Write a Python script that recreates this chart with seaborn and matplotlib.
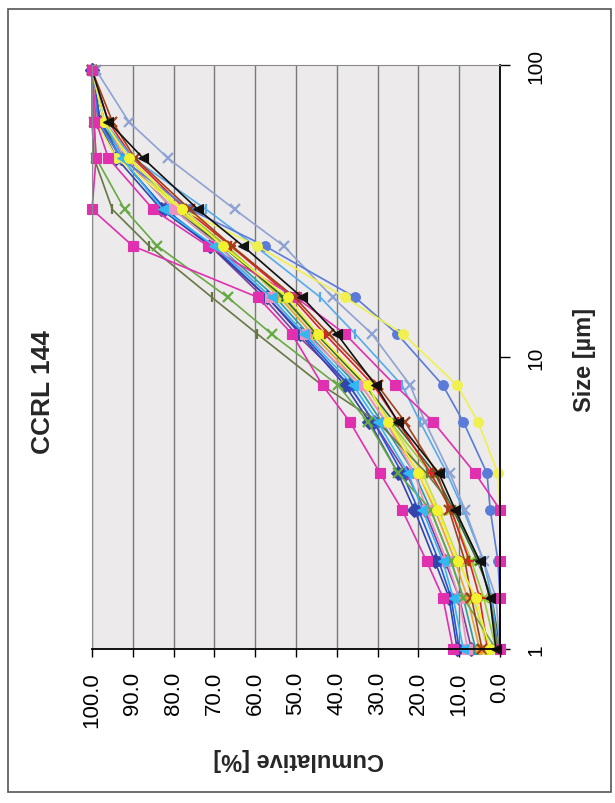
import numpy as np
import pandas as pd
import matplotlib
matplotlib.use("Agg")
import matplotlib.pyplot as plt
import seaborn as sns
from matplotlib.patches import Rectangle

# ---------------- data ----------------
title = "CCRL 144"
size_label = "Size [\u00b5m]"
cum_label = "Cumulative [%]"

sizes = [1, 1.5, 2, 3, 4, 6, 8, 12, 16, 24, 32, 48, 64, 96]

s01 = [10.5, 12.5, 16, 21, 25, 32, 38, 49, 57, 71, 83, 94, 98.5, 100]
s02 = [11.5, 14, 18, 24, 29.4, 36.8, 43.5, 51, 59.3, 90, 100, 99, 99.5, 100]
s03 = [2.5, 6, 10.3, 15.4, 20, 27.5, 32.4, 44.6, 52, 68, 78, 91, 97, 100]
s04 = [9, 11.5, 14, 19, 22.5, 30, 36, 48, 56, 70, 82.6, 92.6, 97, 100]
s05 = [4.4, 7, 8.6, 12.5, 15.4, 23.3, 30, 42, 50.3, 65.7, 76, 89.5, 95, 100]
s06 = [1, 2.5, 5, 11, 15, 25, 30.5, 40, 48.5, 63, 74, 87.5, 96, 100]
s07 = [0, 1, 4, 8.6, 12.3, 18.4, 22, 31.4, 41, 53, 65, 81.4, 91, 99]
s08 = [0, 0, 0.5, 2.4, 3.2, 9, 14, 25.2, 35.5, 57.6, 76, 93, 98.5, 100]
s09 = [0, 0, 0, 0, 0.5, 5.4, 10.5, 23.8, 38, 59.5, 78, 94, 99, 100]
s10 = [0, 0, 0, 0, 6.1, 16.4, 25.7, 38, 50, 71.6, 85, 96, 99, 100]
s11 = [1, 9, 12, 17, 25, 32.4, 39.7, 56, 66.7, 84, 92, 99, 99.5, 100]
s12 = [0.5, 2.5, 5, 11, 18, 30, 43.6, 59.5, 70.6, 86, 95, 99.5, 100, 100]
s13 = [8, 10, 13, 18, 21, 28, 34, 47.8, 56.4, 69, 80, 92, 97, 100]
s14 = [0.5, 2, 4, 9, 13, 19.6, 24, 35.5, 44, 60, 72, 90, 97, 100]
s15 = [3, 5, 7.5, 12, 17, 25, 31, 43, 51, 66, 77, 90, 96, 100]
s16 = [0, 2, 5.5, 11.5, 16, 26, 33, 45, 53, 68, 80, 92, 98, 100]
s17 = [6, 9, 12, 17, 21, 29, 35, 47, 55, 69, 80, 92, 97, 100]
s18 = [5, 8, 11, 16, 20, 28, 34, 46, 54, 67, 79, 91, 97, 100]
s19 = [7, 10, 13.5, 18.5, 23, 31, 37, 50, 58, 71, 82, 93, 98, 100]
s20 = [1, 4, 7, 12, 17, 27, 33, 45, 53, 67, 78, 91, 97, 100]
s21 = [10, 12, 15, 20, 24, 31, 37, 48.5, 57, 70.5, 82, 93, 98, 100]
s22 = [3, 6.5, 10, 15, 19, 27, 33, 45, 53.5, 68, 79, 91, 97, 100]

cum_ticks = [0, 10, 20, 30, 40, 50, 60, 70, 80, 90, 100]
size_ticks = [1, 10, 100]
size_ticklabels = ["1", "10", "100"]

# drawing order / styles (background lines first, prominent last)
styles = [
    (s19, "#8040A0", "D"), (s17, "#2A9D9D", "^"), (s18, "#F0A030", "o"),
    (s20, "#99CC33", "x"), (s22, "#CCDD44", "^"), (s16, "#336633", "*"),
    (s15, "#DD2222", "+"), (s21, "#2255DD", "o"), (s01, "#3344AA", "D"),
    (s13, "#F090C0", "s"), (s14, "#55AAEE", "|"), (s12, "#667744", "|"),
    (s11, "#66AA44", "x"), (s07, "#8EA2D4", "x"), (s08, "#5A7BD8", "o"),
    (s09, "#F0F050", "o"), (s10, "#E030B0", "s"), (s04, "#33B8F0", "<"),
    (s05, "#A0401A", "x"), (s03, "#F2F230", "o"), (s06, "#111111", "<"),
    (s02, "#E030B0", "s"),
]

# ---------------- figure ----------------
sns.set_style("white")
plt.rcParams["font.family"] = ["Liberation Sans", "DejaVu Sans"]

W, H = 615, 804
fig = plt.figure(figsize=(W / 100, H / 100), dpi=100)
fig.patch.set_facecolor("white")
ax = fig.add_axes([92 / W, 1 - 650 / H, (500 - 92) / W, (650 - 66) / H])
ax.set_facecolor("#ECEAEA")

for vals, color, marker in styles:
    sns.lineplot(x=vals, y=sizes, sort=False, estimator=None, ax=ax,
                 color=color, marker=marker, markersize=7,
                 markeredgecolor=color,
                 markeredgewidth=1.6 if marker in "x+|" else 0.8,
                 linewidth=1.2, legend=False, clip_on=False)

ax.set_yscale("log")
ax.set_ylim(1, 100)
ax.set_xlim(100, 0)

ax.set_xticks(cum_ticks)
ax.set_xticklabels([f"{v:.1f}" for v in cum_ticks])
ax.yaxis.tick_right()
ax.set_yticks(size_ticks)
ax.set_yticklabels(size_ticklabels)
ax.yaxis.set_minor_locator(matplotlib.ticker.NullLocator())

ax.tick_params(axis="x", direction="out", length=6, width=1, pad=10,
               labelsize=16, labelrotation=90, bottom=True, colors="black")
ax.tick_params(axis="y", direction="out", length=7, width=1, pad=12,
               labelsize=15, labelrotation=90, right=True, left=False, colors="black")
for lbl in ax.get_yticklabels():
    lbl.set_va("center")

ax.grid(axis="x", color="#7a7a7a", linewidth=1)
ax.grid(axis="y", visible=False)
ax.set_axisbelow(True)

for side in ["bottom", "right"]:
    ax.spines[side].set_color("black")
    ax.spines[side].set_linewidth(1.3)
ax.spines["top"].set_color("#8a8a8a")
ax.spines["left"].set_color("#8a8a8a")
ax.set_xlabel("")
ax.set_ylabel("")

fig.text(43 / W, 1 - 392 / H, title, rotation=90, ha="center", va="center",
         fontsize=19, fontweight="bold")
fig.text(584 / W, 1 - 360 / H, size_label, rotation=90, ha="center", va="center",
         fontsize=17, fontweight="bold")
fig.text(299 / W, 1 - 760 / H, cum_label, rotation=180, ha="center", va="center",
         fontsize=17, fontweight="bold")

fig.patches.append(Rectangle((8 / W, 1 - 793 / H), (611 - 8) / W, (793 - 10) / H,
                             transform=fig.transFigure, fill=False,
                             edgecolor="#555555", linewidth=1.2))

fig.savefig("out.png", dpi=100)
